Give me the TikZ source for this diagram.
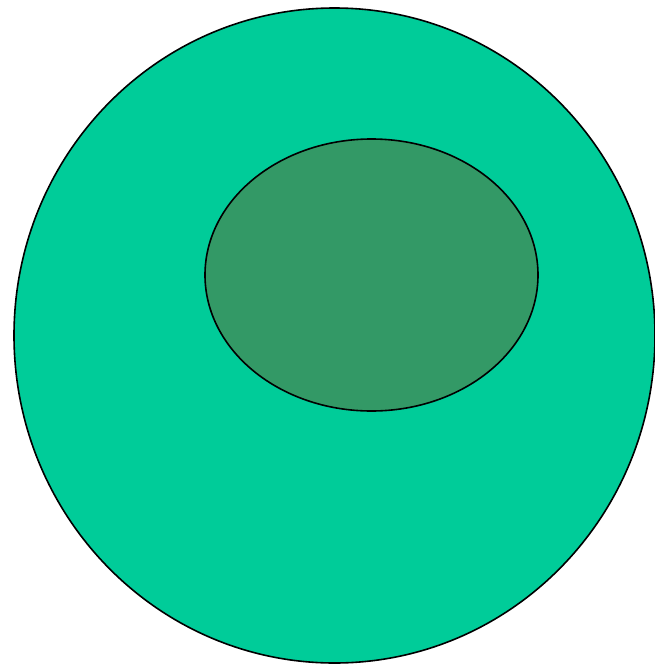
\documentclass[tikz,border=0pt]{standalone}
\usepackage{tikz}
\usetikzlibrary{positioning}
\definecolor{cellgreen}{HTML}{00CC99}
\definecolor{nucgreen}{HTML}{339966}

\begin{document}
\begin{tikzpicture}[x=1pt,y=-1pt,
  blob/.style={draw=black,line width=1.6pt}]
\useasboundingbox (0,0) rectangle (655,665);
\draw[blob,fill=cellgreen] (334.5,335.5) ellipse [x radius=320.5,y radius=327.5];
\draw[blob,fill=nucgreen] (371.5,275) ellipse [x radius=166.5,y radius=136];
\end{tikzpicture}
\end{document}
